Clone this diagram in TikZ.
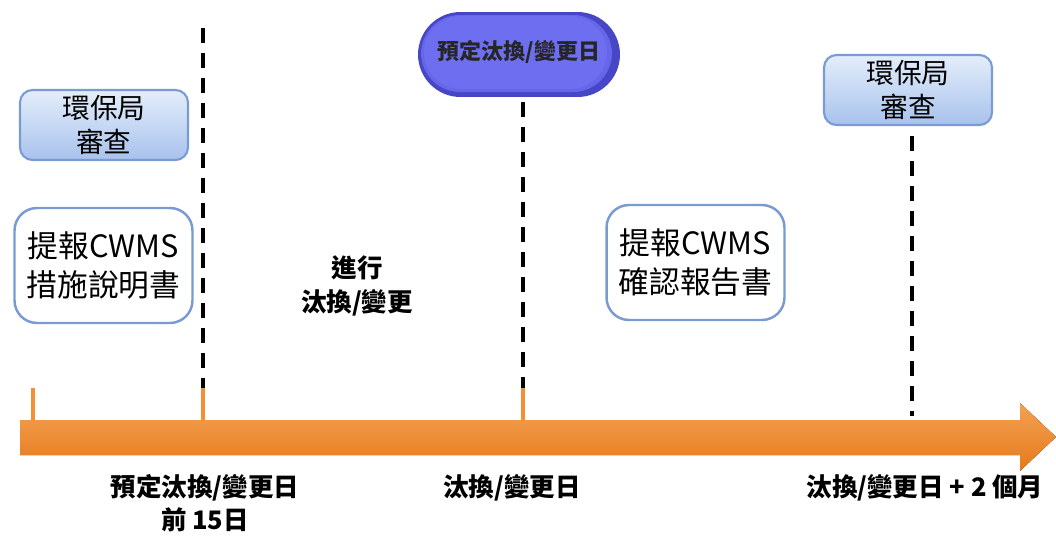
\documentclass[tikz,border=0pt]{standalone}
\usepackage{fontspec}
\setmainfont{Noto Sans CJK TC}
\definecolor{arrowor}{HTML}{F29035}
\definecolor{arrowdk}{HTML}{E57A1A}
\definecolor{boxedge}{HTML}{7A9AD2}
\definecolor{boxtop}{HTML}{E4EEFB}
\definecolor{boxbot}{HTML}{A8C2EC}
\definecolor{pillin}{HTML}{6E6EF0}
\definecolor{pillrim}{HTML}{4646C6}
\begin{document}
\begin{tikzpicture}[x=0.02cm,y=-0.02cm,
  review/.style={draw=boxedge, line width=1.2pt, rounded corners=0.25cm,
    top color=boxtop, bottom color=boxbot, minimum width=3.36cm, minimum height=1.4cm,
    align=center, font=\fontsize{15.8}{19}\selectfont, inner sep=0pt},
  report/.style={draw=boxedge, line width=1.4pt, rounded corners=0.45cm, fill=white,
    minimum width=3.56cm, minimum height=2.3cm, align=center,
    font=\fontsize{17.5}{22}\selectfont, inner sep=0pt},
  guide/.style={line width=1.8pt, dash pattern=on 0.3cm off 0.2cm, black},
  tick/.style={arrowor, line width=1.8pt},
  lbl/.style={align=center, font=\bfseries\fontsize{14.5}{19}\selectfont, inner sep=0pt}
]
\useasboundingbox (0,0) rectangle (1056,548);
% timeline arrow
\fill[top color=arrowor!85!white, bottom color=arrowdk]
  (20,420) -- (1020,420) -- (1020,403) -- (1056,437) -- (1020,471) -- (1020,455) -- (20,455) -- cycle;
% orange ticks
\coordinate (t0) at (33,388); \coordinate (t0b) at (33,420);
\coordinate (t1) at (203,388); \coordinate (t1b) at (203,420);
\coordinate (t2) at (523,388); \coordinate (t2b) at (523,420);
\draw[tick] (t0) -- (t0b);
\draw[tick] (t1) -- (t1b);
\draw[tick] (t2) -- (t2b);
% dashed guides
\coordinate (g1top) at (203,28);
\coordinate (g2top) at (523,102);
\coordinate (g3top) at (912,136);
\coordinate (g3bot) at (912,416);
\draw[guide] (g1top) -- (t1);
\draw[guide] (g2top) -- (t2);
\draw[guide] (g3top) -- (g3bot);
% boxes
\node[review] (rev1) at (104,125) {環保局\\審查};
\node[review] (rev2) at (908,90) {環保局\\審查};
\node[report] (rep1) at (103.5,265.5) {提報CWMS\\措施說明書};
\node[report] (rep2) at (695.5,262.5) {提報CWMS\\確認報告書};
% pill
\node[fill=pillrim, rounded corners=0.85cm, minimum width=4.04cm, minimum height=1.7cm, inner sep=0pt] (pill) at (519,54.5) {};
\fill[pillin!80!pillrim, rounded corners=0.78cm] (421,15) rectangle (612,92);
\fill[pillin, rounded corners=0.74cm] (424,16) rectangle (607,89);
\node[font=\bfseries\fontsize{12.5}{16}\selectfont, text=black!85] (pilltxt) at (519,52) {預定汰換/變更日};
% middle text
\node[lbl] (act) at (357,286) {進行\\汰換/變更};
% bottom labels
\node[lbl] (d1) at (205,503) {預定汰換/變更日\\前 15日};
\node[lbl] (d2) at (512,488) {汰換/變更日};
\node[lbl] (d3) at (925,488) {汰換/變更日 + 2 個月};
\end{tikzpicture}
\end{document}
